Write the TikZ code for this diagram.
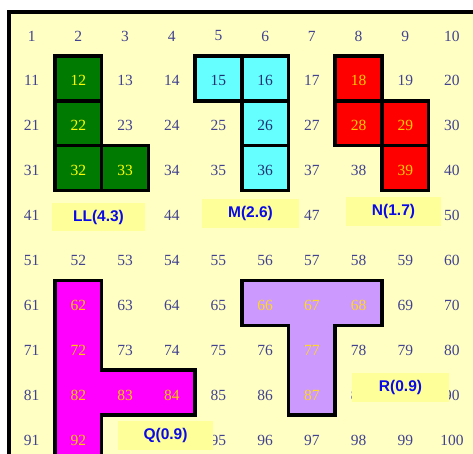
\documentclass[tikz,border=0pt]{standalone}
\usepackage{fontspec}
\setmainfont{Liberation Serif}
\newfontfamily\lblfont{Liberation Sans}
\definecolor{bgyellow}{HTML}{FFFFC4}
\definecolor{lblyellow}{HTML}{FFFF99}
\definecolor{plainnum}{HTML}{424290}
\definecolor{cyannum}{HTML}{203070}
\definecolor{ggreen}{HTML}{007A00}
\definecolor{gcyan}{HTML}{66FFFF}
\definecolor{gred}{HTML}{FF0000}
\definecolor{gmag}{HTML}{FF00FF}
\definecolor{gpurple}{HTML}{CC99FF}
\definecolor{goldnum}{HTML}{FFCC00}
\definecolor{yelnum}{HTML}{FFFF00}
\definecolor{purnum}{HTML}{FFD820}
\definecolor{lblblue}{HTML}{0A0AE6}
\newcommand{\gx}[1]{\fpeval{8.3+(#1)*46.7}}
\newcommand{\gy}[1]{\fpeval{11+(#1)*44.9}}
% colour of the number in shaped cells; "none" = hidden under a label
\makeatletter
\newcommand{\setnc}[2]{\@for\i:=#1\do{\expandafter\xdef\csname nc\i\endcsname{#2}}}
\makeatother
\setnc{12,22,32,33}{yelnum}
\setnc{15,16,26,36}{cyannum}
\setnc{18,28,29,39}{goldnum}
\setnc{62,72,82,92,83,84}{goldnum}
\setnc{66,67,68,77,87}{purnum}
\setnc{42,43,45,46,48,49,89,93,94}{none}
\tikzset{
  outline/.style={draw=black, line width=3.5bp, line join=miter},
  numtext/.style={inner sep=0pt, font=\fontsize{15.5bp}{18bp}\selectfont},
  lbl/.style={rectangle, fill=lblyellow, inner sep=0pt, text=lblblue,
    font=\lblfont\bfseries\fontsize{15.5bp}{18bp}\selectfont},
}
\newcommand{\cellbox}[3]{\fill[#3] (\gx{#1-1},\gy{#2-1}) rectangle (\gx{#1},\gy{#2});}
\newcommand{\celldraw}[2]{\draw[outline] (\gx{#1-1},\gy{#2-1}) rectangle (\gx{#1},\gy{#2});}
\begin{document}
\begin{tikzpicture}[x=1bp,y=-1bp]
\useasboundingbox (0,0) rectangle (473,454);
\fill[white] (0,0) rectangle (473,454);
\fill[bgyellow] (9.3,12) rectangle (480,460);
% LL (green)
\cellbox{2}{2}{ggreen}\cellbox{2}{3}{ggreen}\cellbox{2}{4}{ggreen}\cellbox{3}{4}{ggreen}
\celldraw{2}{2}\celldraw{2}{3}\celldraw{2}{4}\celldraw{3}{4}
% M (cyan)
\cellbox{5}{2}{gcyan}\cellbox{6}{2}{gcyan}\cellbox{6}{3}{gcyan}\cellbox{6}{4}{gcyan}
\celldraw{5}{2}\celldraw{6}{2}\celldraw{6}{3}\celldraw{6}{4}
% N (red)
\cellbox{8}{2}{gred}\cellbox{8}{3}{gred}\cellbox{9}{3}{gred}\cellbox{9}{4}{gred}
\celldraw{8}{2}\celldraw{8}{3}\celldraw{9}{3}\celldraw{9}{4}
% Q (magenta)
\filldraw[outline, fill=gmag] (\gx{1},\gy{6}) -- (\gx{2},\gy{6}) -- (\gx{2},\gy{8}) -- (\gx{4},\gy{8})
  -- (\gx{4},\gy{9}) -- (\gx{2},\gy{9}) -- (\gx{2},\gy{10}) -- (\gx{1},\gy{10}) -- cycle;
% T (purple)
\filldraw[outline, fill=gpurple] (\gx{5},\gy{6}) -- (\gx{8},\gy{6}) -- (\gx{8},\gy{7}) -- (\gx{7},\gy{7})
  -- (\gx{7},\gy{9}) -- (\gx{6},\gy{9}) -- (\gx{6},\gy{7}) -- (\gx{5},\gy{7}) -- cycle;
% numbers
\foreach \r in {1,...,10}{
  \foreach \c in {1,...,10}{
    \pgfmathtruncatemacro{\n}{(\r-1)*10+\c}
    \ifcsname nc\n\endcsname \edef\col{\csname nc\n\endcsname}\else \def\col{plainnum}\fi
    \def\nonecol{none}
    \ifx\col\nonecol\else
    \node[numtext, text=\col] (n\n) at (\fpeval{8.3+(\c-0.5)*46.7},\fpeval{11+(\r-0.5)*44.9+2.5}) {\n};
    \fi
  }
}
% labels
\node[lbl, minimum width=93bp, minimum height=28bp] (lblLL) at (98.5,217) {LL(4.3)};
\node[lbl, minimum width=97bp, minimum height=29bp] (lblM) at (250.5,213.5) {M(2.6)};
\node[lbl, minimum width=95bp, minimum height=29bp] (lblN) at (393.5,211.5) {N(1.7)};
\node[lbl, minimum width=95bp, minimum height=29bp] (lblQ) at (165.5,435.5) {Q(0.9)};
\node[lbl, minimum width=97bp, minimum height=29bp] (lblR) at (400.5,387.5) {R(0.9)};
% frame
\draw[line width=4bp, line join=miter] (9.3,470) -- (9.3,12) -- (490,12);
\end{tikzpicture}
\end{document}
